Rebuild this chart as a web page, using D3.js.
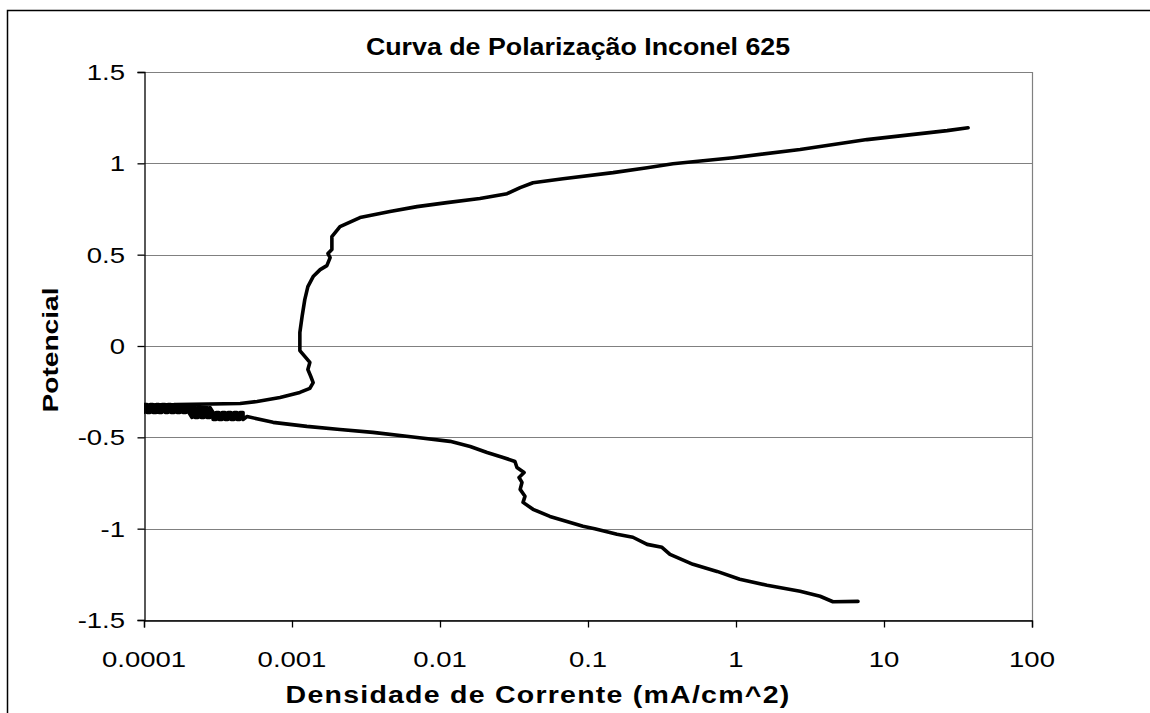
<!DOCTYPE html>
<html>
<head>
<meta charset="utf-8">
<script src="https://cdn.jsdelivr.net/npm/d3@7"></script>
<style>
  body { margin: 0; background: #fff; }
  text { font-family: "Liberation Sans", Arial, sans-serif; fill: #000; }
</style>
</head>
<body>
<div id="chart"></div>
<script>
"use strict";

// current density (mA/cm^2) and potential (V),
// cathodic end first, then the noisy band near Ecorr, then the anodic branch
const currentDensity = [
  6.67, 4.52, 3.70, 2.71, 1.62, 1.06, 0.745, 0.512, 0.358, 0.316, 0.251, 0.201,
  0.157, 0.111, 0.0925, 0.0553, 0.0425, 0.0364, 0.0375, 0.0348, 0.0358, 0.0342,
  0.0370, 0.0331, 0.0321, 0.0267, 0.0208, 0.0160, 0.0117, 0.00678, 0.00352,
  0.00211, 0.00126, 0.000745, 0.000497,
  // noisy band around the corrosion potential
  0.000467, 0.000467, 0.000445, 0.000445, 0.000425, 0.000425, 0.000406, 0.000406,
  0.000387, 0.000387, 0.000369, 0.000369, 0.000353, 0.000353, 0.000337, 0.000337,
  0.000321, 0.000321, 0.000307, 0.000307, 0.000293, 0.000293,
  0.000279, 0.000279, 0.000266, 0.000266, 0.000254, 0.000254, 0.000243, 0.000243,
  0.000232, 0.000232, 0.000221, 0.000221, 0.000211, 0.000211,
  0.000201, 0.000201, 0.000192, 0.000192, 0.000183, 0.000183, 0.000175, 0.000175,
  0.000167, 0.000167, 0.000160, 0.000160, 0.000152, 0.000152, 0.000145, 0.000145,
  0.000139, 0.000139, 0.000132, 0.000132, 0.000126, 0.000126, 0.000121, 0.000121,
  0.000115, 0.000115, 0.000110, 0.000110, 0.000105, 0.000105, 0.000100, 0.000100,
  0.0000954, 0.0000954, 0.000080,
  // anodic branch
  0.000446, 0.000581, 0.00083, 0.00113, 0.00132, 0.00139, 0.00134, 0.00128,
  0.00132, 0.00122, 0.00113, 0.00113, 0.00113, 0.00117, 0.00122, 0.00128,
  0.00139, 0.00155, 0.00172, 0.00181, 0.00175, 0.00186, 0.00186, 0.00211,
  0.00288, 0.00459, 0.00700, 0.01114, 0.0186, 0.0284, 0.0348, 0.0425, 0.0678,
  0.1477, 0.251, 0.375, 0.955, 2.71, 7.67, 26.7, 37.0
];
const potential = [
  -1.398, -1.400, -1.370, -1.343, -1.310, -1.277, -1.234, -1.195, -1.141, -1.102, -1.086, -1.047,
  -1.031, -1.000, -0.987, -0.933, -0.894, -0.856, -0.823, -0.785, -0.747, -0.720,
  -0.692, -0.665, -0.632, -0.610, -0.583, -0.550, -0.522, -0.500, -0.473,
  -0.457, -0.440, -0.418, -0.386,
  -0.402, -0.364, -0.364, -0.402, -0.402, -0.364, -0.364, -0.402,
  -0.402, -0.364, -0.364, -0.402, -0.402, -0.364, -0.364, -0.402,
  -0.402, -0.364, -0.364, -0.402, -0.402, -0.364,
  -0.336, -0.391, -0.391, -0.336, -0.336, -0.391, -0.391, -0.336,
  -0.336, -0.391, -0.391, -0.336, -0.336, -0.391,
  -0.364, -0.320, -0.320, -0.364, -0.364, -0.320, -0.320, -0.364,
  -0.364, -0.320, -0.320, -0.364, -0.364, -0.320, -0.320, -0.364,
  -0.364, -0.320, -0.320, -0.364, -0.364, -0.320, -0.320, -0.364,
  -0.364, -0.320, -0.320, -0.364, -0.364, -0.320, -0.320, -0.364,
  -0.364, -0.320, -0.325,
  -0.315, -0.304, -0.282, -0.254, -0.232, -0.200, -0.167, -0.129,
  -0.090, -0.057, -0.025, 0.019, 0.074, 0.161, 0.254, 0.325,
  0.380, 0.418, 0.440, 0.484, 0.506, 0.528, 0.599, 0.654,
  0.703, 0.736, 0.763, 0.785, 0.807, 0.834, 0.867, 0.894, 0.916,
  0.949, 0.976, 0.998, 1.031, 1.076, 1.130, 1.179, 1.195
];

const xTicks = [0.0001, 0.001, 0.01, 0.1, 1, 10, 100];
const yTicks = [-1.5, -1, -0.5, 0, 0.5, 1, 1.5];

const chartTitle = "Curva de Polarização Inconel 625";
const xTitle = "Densidade de Corrente (mA/cm^2)";
const yTitle = "Potencial";

const points = currentDensity.map((c, i) => ({x: c, y: potential[i]}));

var width = 1150;
var height = 713;
var plot = {left: 144, right: 1032, top: 72, bottom: 620};
var textStretch = 1.25;

const svg = d3.select("#chart")
  .append("svg")
  .attr("width", width)
  .attr("height", height);

// outer chart frame (runs off the right and bottom edges)
svg.append("rect")
  .attr("x", 7.5)
  .attr("y", 10.5)
  .attr("width", 1300)
  .attr("height", 900)
  .attr("fill", "#fff")
  .attr("stroke", "#000")
  .attr("stroke-width", 1.5);

const x = d3.scaleLog()
  .domain([0.0001, 100])
  .range([plot.left, plot.right]);

const y = d3.scaleLinear()
  .domain([-1.5, 1.5])
  .range([plot.bottom, plot.top]);

// gridlines
svg.append("g")
  .selectAll("line")
  .data(yTicks)
  .join("line")
    .attr("x1", plot.left)
    .attr("x2", plot.right)
    .attr("y1", d => Math.round(y(d)) + 0.5)
    .attr("y2", d => Math.round(y(d)) + 0.5)
    .attr("stroke", "#808080")
    .attr("stroke-width", 1.2);

// right border of plot area
svg.append("line")
  .attr("x1", plot.right + 0.5)
  .attr("x2", plot.right + 0.5)
  .attr("y1", plot.top)
  .attr("y2", plot.bottom)
  .attr("stroke", "#808080")
  .attr("stroke-width", 1.2);

// axes
const yAxis = svg.append("g")
  .attr("transform", `translate(${plot.left + 0.5},0)`)
  .call(d3.axisLeft(y).tickValues(yTicks).tickSize(7).tickFormat(""));
const xAxis = svg.append("g")
  .attr("transform", `translate(0,${plot.bottom + 0.5})`)
  .call(d3.axisBottom(x).tickValues(xTicks).tickSize(7).tickFormat(""));

[yAxis, xAxis].forEach(g => {
  g.selectAll("path, line").attr("stroke", "#000").attr("stroke-width", 1.3);
});

// tick labels, stretched sideways like the original
svg.append("g")
  .selectAll("text")
  .data(yTicks)
  .join("text")
    .attr("transform", d => `translate(125,${y(d) + 8}) scale(${textStretch},1)`)
    .attr("text-anchor", "end")
    .style("font-size", "22px")
    .text(d => String(d));

svg.append("g")
  .selectAll("text")
  .data(xTicks)
  .join("text")
    .attr("transform", d => `translate(${x(d)},667) scale(${textStretch},1)`)
    .attr("text-anchor", "middle")
    .style("font-size", "22px")
    .text(d => String(d));

// titles
svg.append("text")
  .attr("transform", `translate(578,55) scale(1.165,1)`)
  .attr("text-anchor", "middle")
  .style("font-size", "23px")
  .style("font-weight", "bold")
  .text(chartTitle);

svg.append("text")
  .attr("transform", `translate(538,703) scale(1.24,1)`)
  .attr("text-anchor", "middle")
  .style("font-size", "23px")
  .style("font-weight", "bold")
  .style("letter-spacing", "1px")
  .text(xTitle);

svg.append("text")
  .attr("transform", `translate(58,350) rotate(-90) scale(1.28,1)`)
  .attr("text-anchor", "middle")
  .style("font-size", "22px")
  .style("font-weight", "bold")
  .text(yTitle);

// the polarization curve, clipped to the plot area
svg.append("clipPath")
  .attr("id", "plot-clip")
  .append("rect")
    .attr("x", plot.left)
    .attr("y", plot.top - 5)
    .attr("width", plot.right - plot.left)
    .attr("height", plot.bottom - plot.top + 10);

const line = d3.line()
  .x(d => x(d.x))
  .y(d => y(d.y));

svg.append("path")
  .datum(points)
  .attr("clip-path", "url(#plot-clip)")
  .attr("fill", "none")
  .attr("stroke", "#000")
  .attr("stroke-width", 3.6)
  .attr("stroke-linejoin", "round")
  .attr("stroke-linecap", "round")
  .attr("d", line);
</script>
</body>
</html>
